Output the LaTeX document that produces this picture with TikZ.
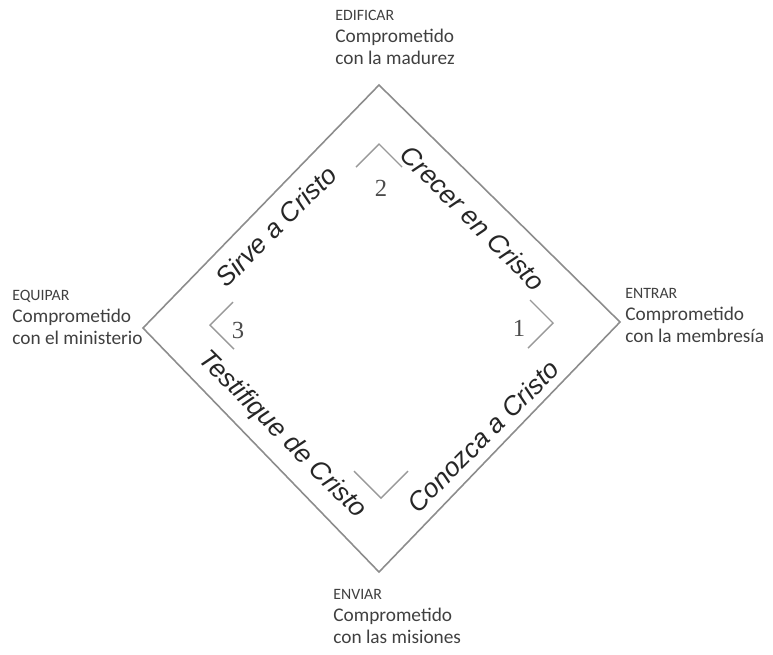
\documentclass[tikz,border=0pt]{standalone}
\usepackage{fontspec}
\setmainfont{Carlito}
\newfontfamily\pathfont{Liberation Sans}
\newfontfamily\numfont{Liberation Serif}
\begin{document}
\begin{tikzpicture}[x=0.02cm,y=-0.02cm,
  edge/.style={draw=black!45,line width=0.9pt},
  chevron/.style={draw=black!40,line width=0.8pt},
  stage label/.style={align=left,anchor=north west,inner sep=0pt,font=\fontsize{11}{12.5}\selectfont,text=black!75},
  path text/.style={font=\pathfont\itshape\fontsize{15}{18}\selectfont,text=black!85,inner sep=0pt},
  step num/.style={font=\numfont\fontsize{14}{16}\selectfont,text=black!70,inner sep=0pt}]
        \useasboundingbox (0,0) rectangle (773,654);

        % outer corners
        \coordinate (top) at (379,85);
        \coordinate (right) at (620,322);
        \coordinate (bottom) at (379,572);
        \coordinate (left) at (143,328);
        % inner corners
        \coordinate (in top) at (379,144);
        \coordinate (in right) at (553,323);
        \coordinate (in bottom) at (381,498);
        \coordinate (in left) at (210,325);

        \draw[edge] (top) -- (right) -- (bottom) -- (left) -- cycle;

        \draw[chevron] (in top) ++(-23,23) -- (in top) -- ++(23,23);
        \draw[chevron] (in right) ++(-23,-23) -- (in right) -- ++(-25,25);
        \draw[chevron] (in bottom) ++(-27,-27) -- (in bottom) -- ++(27,-27);
        \draw[chevron] (in left) ++(23,-23) -- (in left) -- ++(24,24);

        \node[step num] (n2) at (381,188) {2};
        \node[step num] (n1) at (519,328) {1};
        \node[step num] (n3) at (238,330) {3};

        \node[path text, rotate=-45] (crecer) at (473,218) {Crecer en Cristo};
        \node[path text, rotate=45] (sirve) at (276,226) {Sirve a Cristo};
        \node[path text, rotate=-45] (testifique) at (282,435) {Testifique de Cristo};
        \node[path text, rotate=45] (conozca) at (483,436) {Conozca a Cristo};

        \node[stage label] (edificar) at (335,10) {{\fontsize{9}{12.5}\selectfont EDIFICAR}\\Comprometido\\con la madurez};
        \node[stage label] (entrar) at (625,288) {{\fontsize{9}{12.5}\selectfont ENTRAR}\\Comprometido\\con la membresía};
        \node[stage label] (equipar) at (12,290) {{\fontsize{9}{12.5}\selectfont EQUIPAR}\\Comprometido\\con el ministerio};
        \node[stage label] (enviar) at (333,589) {{\fontsize{9}{12.5}\selectfont ENVIAR}\\Comprometido\\con las misiones};
\end{tikzpicture}
\end{document}
